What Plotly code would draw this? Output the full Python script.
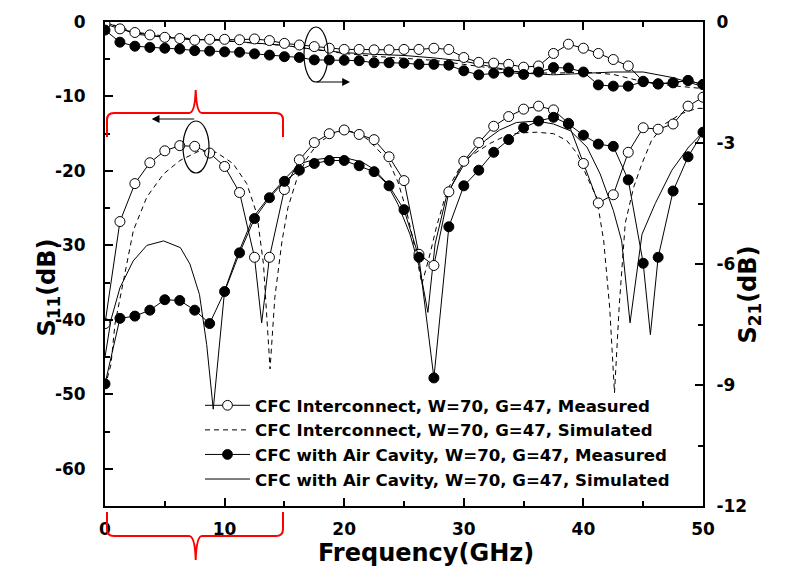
import plotly.graph_objects as go

# ---------------- data ----------------
f_meas = [0, 1.25, 2.5, 3.75, 5, 6.25, 7.5, 8.75, 10, 11.25, 12.5, 13.75, 15, 16.25,
          17.5, 18.75, 20, 21.25, 22.5, 23.75, 25, 26.25, 27.5, 28.75, 30, 31.25, 32.5,
          33.75, 35, 36.25, 37.5, 38.75, 40, 41.25, 42.5, 43.75, 45, 46.25, 47.5, 48.75, 50]

# S11 (left axis), measured
s11_ic_meas = [-40.5, -26.8, -21.7, -18.9, -17.3, -16.6, -16.7, -17.6, -19.4, -22.9, -31.6,
               -31.6, -22.5, -18.5, -16.2, -15.0, -14.5, -15.1, -15.8, -18.1, -21.3, -31.2,
               -32.7, -22.8, -18.7, -16.2, -14.0, -12.7, -11.7, -11.3, -11.8, -13.6, -19.0,
               -24.3, -23.2, -17.5, -14.2, -14.4, -13.7, -11.3, -10.1]
s11_ic_dip = (13.1, -40.4)   # extra sample between markers

s11_ac_meas = [-48.6, -39.8, -39.5, -38.7, -37.3, -37.4, -38.7, -40.5, -36.2, -31.0, -26.4,
               -23.6, -21.4, -19.9, -19.0, -18.6, -18.6, -19.3, -20.1, -22.0, -25.2, -31.6,
               -47.8, -27.5, -22.0, -19.9, -17.5, -15.8, -14.2, -13.3, -12.8, -13.7, -15.2,
               -16.4, -16.7, -21.2, -32.4, -31.6, -22.7, -18.1, -14.8]
s11_ac_dip = (45.6, -42.0)

# S11 simulated
f_ic_sim = [0, 0.5, 0.83, 1.53, 2.37, 3.5, 4.9, 6.27, 7.9, 9.3, 10.7, 11.85, 12.7, 13.25,
            13.8, 14.2, 14.8, 15.3, 16.0, 16.8, 17.8, 19.0, 20.0, 21.0, 22.0, 23.2, 23.8,
            24.5, 25.2, 25.8, 26.5, 27.2, 27.7, 28.6, 30.0, 32.2, 33.6, 34.7, 36.1, 37.5,
            38.6, 39.5, 40.3, 41.1, 41.7, 42.2, 42.6, 43.0, 43.5, 44.2, 44.9, 45.7, 46.8,
            48.2, 49.5, 50]
s11_ic_sim = [-49.0, -46.0, -40.6, -34.8, -28.0, -23.5, -20.4, -18.6, -17.3, -17.5, -19.0,
              -21.7, -25.8, -32.5, -46.6, -37.0, -29.4, -24.9, -21.3, -18.5, -16.3, -15.0,
              -14.6, -14.8, -15.8, -17.8, -19.0, -21.5, -25.3, -29.5, -35.2, -31.0, -27.6,
              -22.6, -18.6, -16.3, -15.2, -14.9, -14.8, -15.0, -15.9, -17.7, -20.8, -23.5,
              -29.4, -38.4, -49.8, -38.0, -27.0, -22.2, -19.0, -15.9, -13.7, -12.3, -11.6,
              -11.6]

f_ac_sim = [0, 0.5, 1.25, 2.35, 3.5, 4.9, 6.3, 7.1, 7.9, 8.5, 9.05, 10.0, 11.0, 12.4, 13.8,
            15.2, 16.3, 17.5, 19.0, 20.0, 21.5, 22.5, 23.5, 24.5, 25.5, 26.3, 27.0, 27.6,
            28.6, 30.2, 31.8, 33.0, 34.4, 36.1, 37.5, 38.9, 40.3, 41.4, 42.5, 43.2, 43.9,
            44.9, 46.0, 47.4, 48.8, 50]
s11_ac_sim = [-45.0, -40.0, -35.7, -32.1, -30.0, -29.4, -30.3, -32.5, -36.6, -43.3, -52.0,
              -36.1, -31.6, -26.2, -23.3, -20.8, -19.0, -18.5, -18.2, -18.2, -18.8, -19.8,
              -21.5, -24.5, -28.5, -33.0, -39.0, -29.8, -23.1, -18.6, -15.9, -14.5, -13.5,
              -13.3, -13.7, -14.6, -16.8, -20.4, -25.3, -29.4, -40.4, -28.5, -24.4, -19.9,
              -16.8, -14.8]

# S21 (right axis), measured
s21_ic_meas = [-0.05, -0.17, -0.26, -0.32, -0.38, -0.41, -0.45, -0.43, -0.43, -0.44, -0.42,
               -0.46, -0.53, -0.57, -0.61, -0.65, -0.68, -0.68, -0.69, -0.69, -0.68, -0.68,
               -0.65, -0.68, -0.88, -1.00, -1.02, -1.05, -1.12, -1.09, -0.78, -0.55, -0.65,
               -0.78, -0.93, -1.09, -1.47, -1.53, -1.50, -1.45, -1.55]
s21_ac_meas = [-0.20, -0.50, -0.60, -0.63, -0.65, -0.67, -0.71, -0.72, -0.74, -0.75, -0.79,
               -0.82, -0.86, -0.88, -0.94, -0.94, -0.95, -0.96, -1.01, -1.01, -1.02, -1.05,
               -1.05, -1.07, -1.21, -1.31, -1.27, -1.24, -1.30, -1.24, -1.13, -1.14, -1.24,
               -1.56, -1.59, -1.59, -1.48, -1.54, -1.51, -1.45, -1.55]

# S21 simulated
f_sim21 = [0, 2.5, 5, 7.5, 10, 12.5, 15, 17.5, 20, 22.5, 25, 27.5, 30, 32.5, 35, 37.5, 40,
           42.5, 45, 47.5, 50]
s21_ic_sim = [0.0, -0.25, -0.35, -0.42, -0.47, -0.52, -0.58, -0.68, -0.78, -0.85, -0.90,
              -0.95, -1.05, -1.15, -1.25, -1.27, -1.24, -1.30, -1.48, -1.58, -1.65]
s21_ac_sim = [0.0, -0.30, -0.38, -0.43, -0.46, -0.52, -0.58, -0.68, -0.76, -0.80, -0.83,
              -0.89, -0.97, -1.12, -1.27, -1.31, -1.27, -1.24, -1.24, -1.38, -1.60]

names = ["CFC Interconnect, W=70, G=47, Measured",
         "CFC Interconnect, W=70, G=47, Simulated",
         "CFC with Air Cavity, W=70, G=47, Measured",
         "CFC with Air Cavity, W=70, G=47, Simulated"]

x_ticks = [0, 10, 20, 30, 40, 50]
y1_ticks = [0, -10, -20, -30, -40, -50, -60]
y2_ticks = [0, -3, -6, -9, -12]

# ---------------- helpers ----------------
MSIZE = 10


def with_dip(xs, ys, dip):
    pts = list(zip(xs, ys, [MSIZE] * len(xs)))
    pts.append((dip[0], dip[1], 0))
    pts.sort(key=lambda p: p[0])
    return [p[0] for p in pts], [p[1] for p in pts], [p[2] for p in pts]


FONT = "DejaVu Sans, Liberation Sans, Arial, sans-serif"
L, R, T, B = 105, 91, 22, 81
W, H = 794, 587
PW, PH = W - L - R, H - T - B


def px(x):
    return (x - L) / PW


def py(y):
    return (H - B - y) / PH


def bold(vals):
    return ["<b>%s</b>" % v for v in vals]


open_marker = dict(symbol="circle", color="white", opacity=1,
                   line=dict(color="black", width=1))
fill_marker = dict(symbol="circle", color="black", opacity=1,
                   line=dict(color="black", width=1))
line_thin = dict(color="black", width=1)
line_dash = dict(color="black", width=1, dash="5px,4px")

fig = go.Figure()

# simulated S11
fig.add_trace(go.Scatter(x=f_ic_sim, y=s11_ic_sim, mode="lines", line=line_dash,
                         name=names[1], legendrank=2))
fig.add_trace(go.Scatter(x=f_ac_sim, y=s11_ac_sim, mode="lines", line=line_thin,
                         name=names[3], legendrank=4))
# measured S11
xi, yi, si = with_dip(f_meas, s11_ic_meas, s11_ic_dip)
fig.add_trace(go.Scatter(x=xi, y=yi, mode="lines+markers", line=line_thin,
                         marker=dict(open_marker, size=si), name=names[0], legendrank=1))
xa, ya, sa = with_dip(f_meas, s11_ac_meas, s11_ac_dip)
fig.add_trace(go.Scatter(x=xa, y=ya, mode="lines+markers", line=line_thin,
                         marker=dict(fill_marker, size=sa), name=names[2], legendrank=3))

# S21 on right axis
fig.add_trace(go.Scatter(x=f_sim21, y=s21_ic_sim, mode="lines", line=line_dash,
                         yaxis="y2", showlegend=False))
fig.add_trace(go.Scatter(x=f_sim21, y=s21_ac_sim, mode="lines", line=line_thin,
                         yaxis="y2", showlegend=False))
fig.add_trace(go.Scatter(x=f_meas, y=s21_ic_meas, mode="lines+markers", line=line_thin,
                         marker=dict(open_marker, size=MSIZE), yaxis="y2", showlegend=False))
fig.add_trace(go.Scatter(x=f_meas, y=s21_ac_meas, mode="lines+markers", line=line_thin,
                         marker=dict(fill_marker, size=MSIZE), yaxis="y2", showlegend=False))

tickfont = dict(family=FONT, size=17, color="black", weight="bold")
minor_common = dict(ticks="inside", ticklen=5, tickwidth=2, tickcolor="black", showgrid=False)

fig.update_layout(
    width=W, height=H,
    margin=dict(l=L, r=R, t=T, b=B, pad=0),
    paper_bgcolor="white", plot_bgcolor="white",
    showlegend=True,
    legend=dict(x=px(200), y=py(388), xanchor="left", yanchor="top",
                bgcolor="rgba(0,0,0,0)", borderwidth=0, itemwidth=45,
                font=dict(family=FONT, size=16.6, color="black", weight="bold"),
                tracegroupgap=0),
    xaxis=dict(range=[0, 50], showgrid=False, zeroline=False,
               showline=True, linecolor="black", linewidth=2, mirror="ticks",
               ticks="inside", ticklen=8, tickwidth=2, tickcolor="black",
               tickmode="array", tickvals=x_ticks, ticktext=bold(x_ticks),
               minor=dict(minor_common, tickmode="linear", tick0=0, dtick=5),
               tickfont=tickfont, ticklabelstandoff=7),
    yaxis=dict(range=[-65, 0], showgrid=False, zeroline=False,
               showline=True, linecolor="black", linewidth=2, mirror=True,
               ticks="inside", ticklen=8, tickwidth=2, tickcolor="black",
               tickmode="array", tickvals=y1_ticks, ticktext=bold(y1_ticks),
               minor=dict(minor_common, tickmode="linear", tick0=0, dtick=5),
               tickfont=tickfont, ticklabelstandoff=14),
    yaxis2=dict(range=[-12, 0], overlaying="y", side="right", showgrid=False,
                zeroline=False, showline=True, linecolor="black", linewidth=2,
                ticks="inside", ticklen=8, tickwidth=2, tickcolor="black",
                tickmode="array", tickvals=y2_ticks, ticktext=bold(y2_ticks),
                minor=dict(minor_common, tickmode="linear", tick0=0, dtick=1.5),
                tickfont=tickfont, ticklabelstandoff=8),
)

# axis titles as annotations
title_font = dict(family=FONT, size=24, color="black", weight="bold")
fig.add_annotation(text="<b>Frequency(GHz)</b>", xref="paper", yref="paper", x=px(426), y=py(569),
                   showarrow=False, font=title_font)
fig.add_annotation(text="<b>S<sub>11</sub>(dB)</b>", xref="paper", yref="paper", x=px(30), y=py(288),
                   showarrow=False, textangle=-90, font=title_font)
fig.add_annotation(text="<b>S<sub>21</sub>(dB)</b>", xref="paper", yref="paper", x=px(766), y=py(295),
                   showarrow=False, textangle=-90, font=title_font)


def path_from(points_cmds):
    s = ""
    for cmd, pts in points_cmds:
        s += cmd + " " + " ".join(f"{px(a):.5f},{py(b):.5f}" for a, b in pts) + " "
    return s.strip()


top_brace = path_from([
    ("M", [(107, 137)]), ("L", [(107, 120)]), ("Q", [(107, 113), (114, 113)]),
    ("L", [(189, 113)]), ("Q", [(195, 113), (195.7, 90)]),
    ("Q", [(196.5, 113), (202, 113)]), ("L", [(276, 113)]),
    ("Q", [(283, 113), (283, 120)]), ("L", [(283, 137)]),
])
bot_brace = path_from([
    ("M", [(107, 512)]), ("L", [(107, 529)]), ("Q", [(107, 536), (114, 536)]),
    ("L", [(189, 536)]), ("Q", [(195, 536), (195.7, 560)]),
    ("Q", [(196.5, 536), (202, 536)]), ("L", [(276, 536)]),
    ("Q", [(283, 536), (283, 529)]), ("L", [(283, 512)]),
])
for pth in (top_brace, bot_brace):
    fig.add_shape(type="path", path=pth, xref="paper", yref="paper",
                  line=dict(color="#ff0000", width=2), layer="above")

for (x0, x1, y0, y1) in [(304, 328, 27, 82), (183, 209, 121, 173)]:
    fig.add_shape(type="circle", xref="paper", yref="paper",
                  x0=px(x0), x1=px(x1), y0=py(y1), y1=py(y0),
                  line=dict(color="black", width=1.2), layer="above")

fig.add_annotation(x=px(350), y=py(82), xref="paper", yref="paper", ax=-35, ay=0,
                   axref="pixel", ayref="pixel", showarrow=True, arrowhead=2,
                   arrowsize=1.3, arrowwidth=1.2, arrowcolor="black", text="")
fig.add_annotation(x=px(151.7), y=py(119), xref="paper", yref="paper", ax=44, ay=0,
                   axref="pixel", ayref="pixel", showarrow=True, arrowhead=2,
                   arrowsize=1.3, arrowwidth=1.2, arrowcolor="black", text="")

fig.write_html("out.html", config={"displayModeBar": False},
               post_script="document.body.style.margin='0';document.body.style.padding='0';")
